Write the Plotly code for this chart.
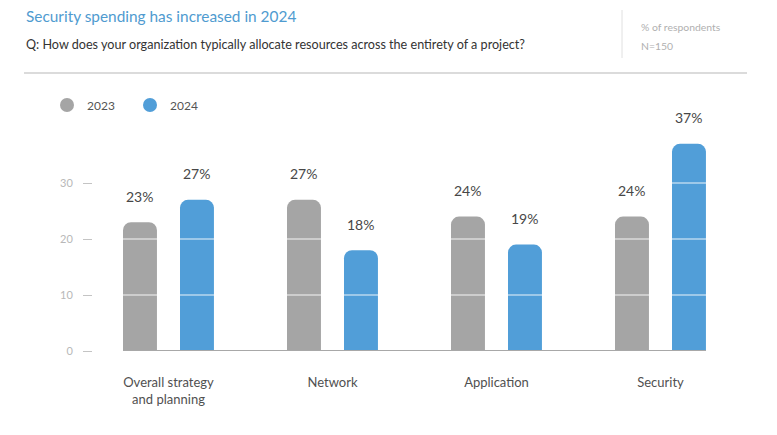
import plotly.graph_objects as go

categories = ["Overall strategy<br>and planning", "Network", "Application", "Security"]
series_names = ["2023", "2024"]
values_2023 = [23, 27, 24, 24]
values_2024 = [27, 18, 19, 37]
y_ticks = [0, 10, 20, 30]

colors = {"2023": "#a5a5a5", "2024": "#519ed8"}

FONT = "Lato"
OFF = 8  # page body margin
W, H = 777 - OFF, 435 - OFF
# target positions below are measured in window pixels
ML = 93 - OFF
MT = 127 - OFF
MR = 777 - 743
MB = 435 - 351
PW, PH = W - ML - MR, H - MT - MB


def px_x(px):
    return (px - OFF - ML) / PW


def px_y(py):
    return (H - MB - (py - OFF)) / PH


bar_w = 0.207
offsets = {"2023": -0.2774, "2024": 0.0701}
series = {"2023": values_2023, "2024": values_2024}
xidx = list(range(len(categories)))

fig = go.Figure()
for name in series_names:
    fig.add_trace(go.Bar(
        x=xidx, y=series[name], name=name, showlegend=False,
        width=bar_w, offset=offsets[name],
        marker=dict(color=colors[name], cornerradius=8, line=dict(width=0)),
        hoverinfo="skip",
    ))
    fig.add_trace(go.Scatter(
        x=[None], y=[None], mode="markers", name=name,
        marker=dict(color=colors[name], size=14, symbol="circle"),
    ))

annotations = []
for name in series_names:
    for i, v in enumerate(series[name]):
        annotations.append(dict(
            x=i + offsets[name] + bar_w / 2, y=v, xref="x", yref="y",
            text=f"{v}%", showarrow=False, yshift=26, yanchor="middle",
            font=dict(family=FONT, size=14, color="#474747"),
        ))

annotations += [
    dict(x=px_x(24), y=px_y(16), xref="paper", yref="paper", xanchor="left", yanchor="middle",
         text="Security spending has increased in 2024", showarrow=False,
         font=dict(family=FONT, size=15.4, color="#4f9bd0")),
    dict(x=px_x(24), y=px_y(44), xref="paper", yref="paper", xanchor="left", yanchor="middle",
         text="Q: How does your organization typically allocate resources across the entirety of a project?",
         showarrow=False, font=dict(family=FONT, size=12.6, color="#333333")),
    dict(x=px_x(639), y=px_y(27), xref="paper", yref="paper", xanchor="left", yanchor="middle",
         text="% of respondents", showarrow=False, font=dict(family=FONT, size=10.4, color="#b0b0b0")),
    dict(x=px_x(639), y=px_y(46), xref="paper", yref="paper", xanchor="left", yanchor="middle",
         text="N=150", showarrow=False, font=dict(family=FONT, size=10.4, color="#b0b0b0")),
]

shapes = []
for t in y_ticks[1:]:
    shapes.append(dict(type="line", xref="paper", yref="y", x0=0, x1=1, y0=t, y1=t,
                       line=dict(color="rgba(255,255,255,0.6)", width=1.5), layer="above"))
shapes.append(dict(type="line", xref="x", yref="y",
                   x0=offsets["2023"], x1=len(categories) - 1 + offsets["2024"] + bar_w,
                   y0=0, y1=0, line=dict(color="#a8a8a8", width=2), layer="above"))
shapes.append(dict(type="line", xref="paper", yref="paper", x0=px_x(622), x1=px_x(622),
                   y0=px_y(10), y1=px_y(58), line=dict(color="#e0e0e0", width=1)))
shapes.append(dict(type="line", xref="paper", yref="paper", x0=px_x(24), x1=px_x(747),
                   y0=px_y(73), y1=px_y(73), line=dict(color="#cfcfcf", width=1.5)))

x_min = -(168.5 - OFF - ML) / 164
x_max = x_min + PW / 164

fig.update_layout(
    width=W, height=H, autosize=False,
    margin=dict(l=ML, r=MR, t=MT, b=MB, pad=0),
    paper_bgcolor="white", plot_bgcolor="white",
    barmode="overlay",
    font=dict(family=FONT, color="#444"),
    showlegend=True,
    legend=dict(orientation="h", x=px_x(47), y=px_y(105), xanchor="left", yanchor="middle",
                entrywidth=38, entrywidthmode="pixels",
                font=dict(family=FONT, size=12, color="#555555"), bgcolor="rgba(0,0,0,0)"),
    xaxis=dict(range=[x_min, x_max], tickmode="array", tickvals=xidx, ticktext=categories,
               showgrid=False, zeroline=False, showline=False, ticks="",
               tickfont=dict(family=FONT, size=13, color="#505050"), ticklabelstandoff=22),
    yaxis=dict(range=[0, 40], tickmode="array", tickvals=y_ticks, ticktext=[str(t) for t in y_ticks],
               showgrid=False, zeroline=False, showline=False,
               ticks="outside", ticklen=9, tickwidth=1, tickcolor="#c4c4c4",
               tickfont=dict(family=FONT, size=11, color="#b8b8b8"), ticklabelstandoff=8),
    annotations=annotations, shapes=shapes,
)

fig.write_html("out.html")
